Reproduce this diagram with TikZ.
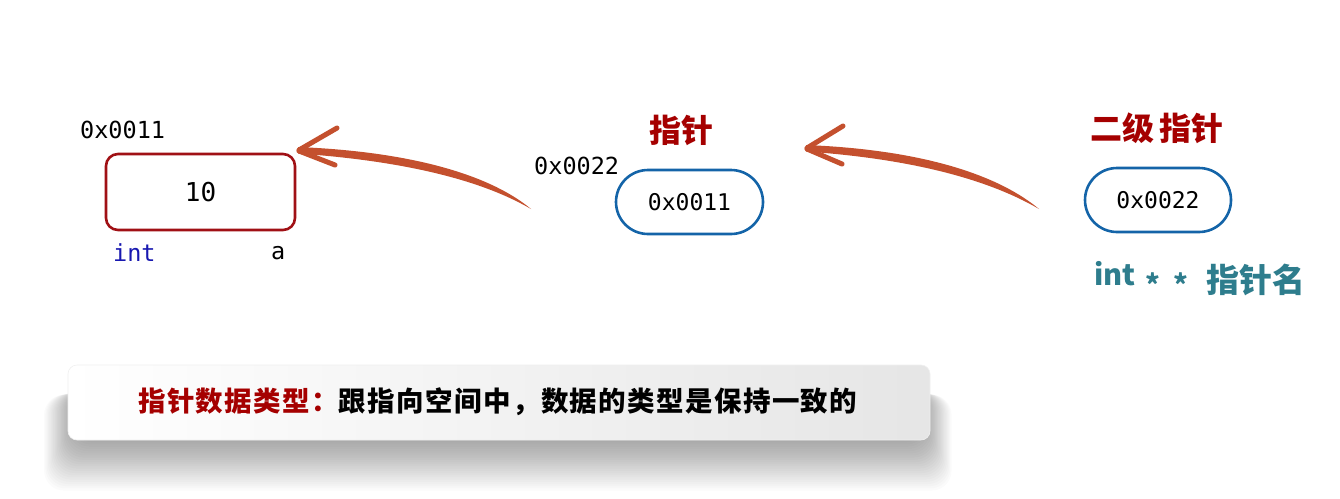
\documentclass[tikz,border=0pt]{standalone}
\usepackage{fontspec}
\usetikzlibrary{calc}
\newfontfamily\cjk{Noto Sans CJK SC}
\newfontfamily\cjknote{Noto Sans CJK SC}[LetterSpace=5]
\newfontfamily\mono{DejaVu Sans Mono}
\definecolor{hred}{HTML}{A50000}
\definecolor{boxred}{HTML}{A01015}
\definecolor{pblue}{HTML}{1464A8}
\definecolor{brush}{HTML}{C4502E}
\definecolor{tealc}{HTML}{2E7D8D}
\definecolor{intblue}{HTML}{1818B0}
\begin{document}
\begin{tikzpicture}[x=1pt,y=-1pt,
  addr/.style={font=\mono\fontsize{23.5}{26}\selectfont, text=black, inner sep=0pt},
  varbox/.style={draw=boxred, line width=2.6pt, rounded corners=12pt, minimum width=189pt, minimum height=76pt, inner sep=0pt, font=\mono\fontsize{26}{30}\selectfont},
  pill/.style={draw=pblue, line width=2.6pt, rounded corners=32pt, minimum height=64pt, inner sep=0pt, font=\mono\fontsize{23}{26}\selectfont},
  head/.style={font=\cjk\bfseries\fontsize{32}{36}\selectfont, text=hred, inner sep=0pt},
  decl/.style={font=\cjk\bfseries\fontsize{29}{34}\selectfont, text=tealc, inner sep=0pt},
  star/.style={decl, font=\cjk\bfseries\fontsize{28}{30}\selectfont, anchor=base},
  brushfill/.style={fill=brush},
  brusharm/.style={draw=brush, line width=5pt, line cap=round},
  note/.style={font=\cjknote\bfseries\fontsize{27.5}{30}\selectfont, inner sep=0pt}
]
\useasboundingbox (0,0) rectangle (1340,498);
\fill[white] (0,0) rectangle (1340,498);

% bottom note shadow
\foreach \i in {0,...,23} {
  \fill[black, opacity=0.017, rounded corners=20pt]
    ({74-\i*1.3},{388+\i*0.3}) rectangle ({924+\i*1.2},{440+\i*2.2});
}
\shade[rounded corners=9pt, left color=white, right color=black!10, draw=black!6, line width=0.6pt]
  (68,365) rectangle (930,440);
\node[note, anchor=west] (notetext) at (138,402)
  {{\color{hred}指针数据类型：}跟指向空间中，数据的类型是保持一致的};

% variable a
\node[addr, anchor=west] (addra) at (80,130) {0x0011};
\node[varbox] (a) at (200.5,192) {10};
\node[addr, text=intblue, anchor=west] (inta) at (113,253) {int};
\node[addr, anchor=west] (namea) at (271,253) {a};

% pointer
\node[head] (h1) at (681,130) {指针};
\node[addr, anchor=west] (addrp) at (534,166) {0x0022};
\node[pill, minimum width=147pt] (p1) at (689.5,202) {0x0011};

% double pointer
\node[head] (h2) at (1157,128) {二级\,指针};
\node[pill, minimum width=146pt] (p2) at (1158,200) {0x0022};
\node[decl, anchor=base west] (declint) at (1094,285) {int};
\node[star] (decls1) at (1153,295) {*};
\node[star] (decls2) at (1181,295) {*};
\node[decl, font=\cjk\bfseries\fontsize{33}{36}\selectfont, anchor=west] (declname) at (1206,280) {指针名};

% arrow from pointer to a
\coordinate (tip1) at (298,150);
\coordinate (tail1) at (531,209);
\fill[brushfill] ($(tip1)+(0,-3)$) .. controls (420,152) and (494,178) .. (tail1)
  .. controls (490,185) and (420,162) .. ($(tip1)+(0,3.5)$) -- cycle;
\draw[brusharm] ($(tip1)+(1,0)$) -- (337,128);
\draw[brusharm] ($(tip1)+(1,1)$) -- (335,165);

% arrow from double pointer to pointer
\coordinate (tip2) at (806,148);
\coordinate (tail2) at (1039,209);
\fill[brushfill] ($(tip2)+(0,-3)$) .. controls (930,150) and (1002,178) .. (tail2)
  .. controls (998,185) and (928,160) .. ($(tip2)+(0,3.5)$) -- cycle;
\draw[brusharm] ($(tip2)+(1,0)$) -- (843,126);
\draw[brusharm] ($(tip2)+(1,1)$) -- (842,164);
\end{tikzpicture}
\end{document}
